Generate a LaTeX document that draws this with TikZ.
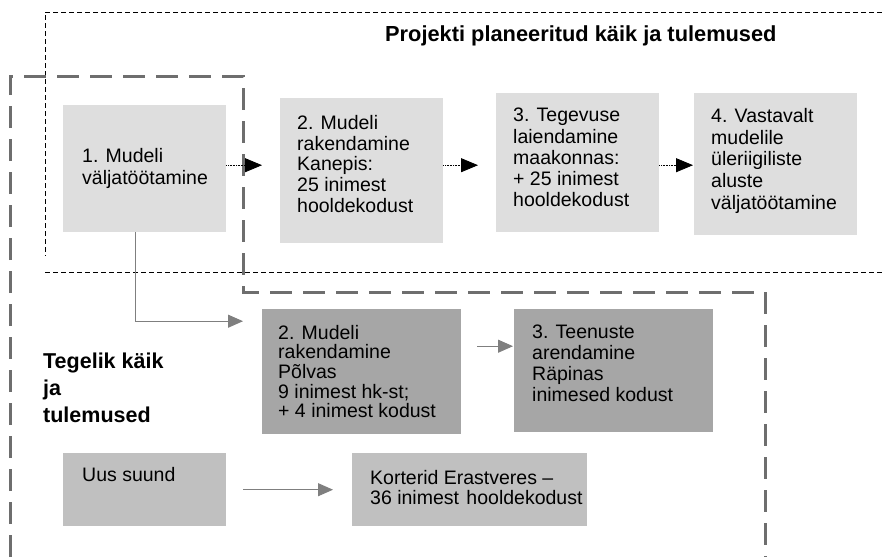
\documentclass[tikz,border=0pt]{standalone}
\usepackage{fontspec}
\setmainfont{Liberation Sans}
\usetikzlibrary{arrows.meta}
\definecolor{boxA}{HTML}{DEDEDE}
\definecolor{boxB}{HTML}{A6A6A6}
\definecolor{boxC}{HTML}{C0C0C0}
\definecolor{frameG}{HTML}{6E6E6E}
\definecolor{connG}{HTML}{7F7F7F}
\begin{document}
\begin{tikzpicture}[x=1pt,y=-1pt,
  boxa/.style={fill=boxA, draw=none, inner sep=0pt, anchor=north west},
  boxb/.style={fill=boxB, draw=none, inner sep=0pt, anchor=north west},
  boxc/.style={fill=boxC, draw=none, inner sep=0pt, anchor=north west},
  txt/.style={anchor=north west, inner sep=0pt, align=left, text=black},
  dotarr/.style={draw=black, line width=0.8pt, dash pattern=on 0.8pt off 0.8pt, -{Triangle[length=17pt,width=14pt]}},
  grayarr/.style={draw=connG, line width=1pt, -{Triangle[length=15pt,width=13pt]}},
  thinframe/.style={draw=black, line width=0.9pt, dash pattern=on 5pt off 3pt},
  thickframe/.style={draw=frameG, line width=3pt, dash pattern=on 22pt off 11pt}
]
\useasboundingbox (0,0) rectangle (882,557);

% frames
\draw[thinframe] (882,12) -- (45,12) -- (45,256);
\draw[thinframe] (45,272) -- (882,272);
\draw[thickframe] (10,557) -- (10,76) -- (243,76) -- (243,292) -- (765,292) -- (765,557);

% boxes
\node[boxa, minimum width=163pt, minimum height=127pt] (b1) at (63,105) {};
\node[boxa, minimum width=163pt, minimum height=145pt] (b2) at (280,98) {};
\node[boxa, minimum width=163pt, minimum height=139pt] (b3) at (496,93) {};
\node[boxa, minimum width=163pt, minimum height=142pt] (b4) at (694,93) {};
\node[boxb, minimum width=199pt, minimum height=125pt] (p2) at (262,309) {};
\node[boxb, minimum width=199pt, minimum height=123pt] (r3) at (514,309) {};
\node[boxc, minimum width=163pt, minimum height=73pt] (uus) at (63,453) {};
\node[boxc, minimum width=235pt, minimum height=73pt] (kort) at (352,453) {};

% texts
\node[txt, font=\fontsize{19.5}{22}\selectfont] (t1) at (82,148) {1. Mudeli\\väljatöötamine};
\node[txt, font=\fontsize{19.5}{20.8}\selectfont] (t2) at (297,115) {2. Mudeli\\rakendamine\\Kanepis:\\25 inimest\\hooldekodust};
\node[txt, font=\fontsize{19.5}{21.25}\selectfont] (t3) at (513,108) {3. Tegevuse\\laiendamine\\maakonnas:\\+ 25 inimest\\hooldekodust};
\node[txt, font=\fontsize{19.5}{21.75}\selectfont] (t4) at (711,108) {4. Vastavalt\\mudelile\\üleriigiliste\\aluste\\väljatöötamine};
\node[txt, font=\fontsize{19.5}{19.6}\selectfont] (tp2) at (278,325) {2. Mudeli\\rakendamine\\Põlvas\\9 inimest hk-st;\\+ 4 inimest kodust};
\node[txt, font=\fontsize{19.5}{21}\selectfont] (tr3) at (532,325) {3. Teenuste\\arendamine\\Räpinas\\inimesed kodust};
\node[txt, font=\fontsize{19.5}{20}\selectfont] (tuus) at (82,467) {Uus suund};
\node[txt, font=\fontsize{19.5}{20}\selectfont] (tkort) at (370,470) {Korterid Erastveres –\\36 inimest\hspace{2pt} hooldekodust};

\node[anchor=base west, inner sep=0pt, font=\bfseries\fontsize{21.8}{26}\selectfont] (title) at (385,41) {Projekti planeeritud käik ja tulemused};
\node[txt, font=\bfseries\fontsize{21.5}{27}\selectfont] (lab) at (43,352.5) {Tegelik käik\\ja\\tulemused};

% connectors
\draw[dotarr, shorten >=18pt] ([yshift=3.5pt]b1.east) -- ([yshift=5.5pt]b2.west);
\draw[dotarr, shorten >=18pt] ([yshift=5.5pt]b2.east) -- ([yshift=-2.5pt]b3.west);
\draw[dotarr, shorten >=1pt] ([yshift=-2.5pt]b3.east) -- ([yshift=-1pt]b4.west);
\draw[grayarr] ([xshift=-9.5pt]b1.south) |- ([xshift=-19pt,yshift=50.5pt]p2.west);
\draw[grayarr, shorten <=16pt, shorten >=1pt] ([yshift=25.5pt]p2.east) -- ([yshift=24.5pt]r3.west);
\draw[grayarr, shorten <=17pt, shorten >=19pt] (uus.east) -- (kort.west);
\end{tikzpicture}
\end{document}
